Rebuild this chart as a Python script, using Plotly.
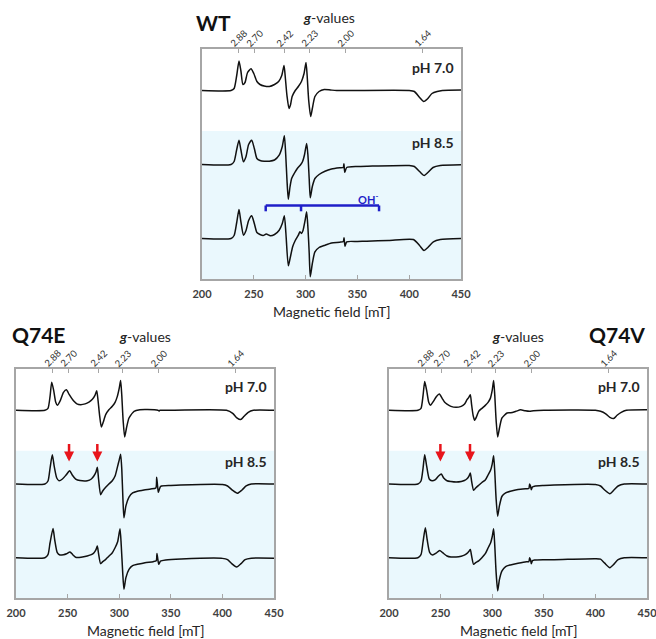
import plotly.graph_objects as go

# ---------------- data ----------------
field_ticks = [200, 250, 300, 350, 400, 450]
g_labels = ["2.88", "2.70", "2.42", "2.23", "2.00", "1.64"]
mw_freq_ghz = 9.47  # microwave frequency used for g -> field conversion

# WT
wt_ph70_field = [200, 228, 231, 233.5, 235.7, 237.5, 239.5, 241.5, 244, 247.3, 250, 253, 256, 260, 265, 270, 274, 277,
                 279.2, 280.5, 282, 284, 285.5, 287, 290, 293, 296, 298.5, 300.4, 301.5, 303, 304.9, 306.5, 309, 313,
                 318, 324, 330, 400, 405, 410, 414, 418, 422, 427, 432, 450]
wt_ph70_int = [0, 0, 2, 15, 29.5, 20, 6, 8, 18, 21.7, 17, 9, 6, 4.5, 4, 6, 9, 15,
               25, 12, -5, -18, -14, -6, 0, 4, 9, 17, 28, 15, -10, -26, -18, -6, -1,
               1, 0.5, 0, 0, -1, -7, -11, -8, -3, -1, 0, 0.5]

wt_ph85_field = [200, 228, 231, 233.5, 235.7, 237.5, 240, 242.5, 245, 248, 250.5, 253, 256, 260, 265, 270, 274.5, 277.5,
                 279.5, 280.8, 282, 283.3, 285, 286.5, 289, 292, 295, 297, 299, 301, 302.2, 303.5, 304.5, 306.5, 309,
                 313, 318.7, 325, 333, 336.3, 337, 337.8, 339.7, 350, 360, 400, 405, 410, 414.5, 418, 423, 430, 450]
wt_ph85_int = [0, 0, 3, 15, 24.3, 15, 2.7, 8, 20, 24.3, 16, 6, 4, 3.3, 3.3, 4.5, 9.3, 18,
               28.7, 10, -15, -34.7, -22, -14, -9, -4, -0.5, 2.7, 10, 21, 10, -15, -33.3, -22, -14,
               -10, -6.7, -4.5, -3.3, -3, 0.7, -7.7, -3, -2, -1.7, -1, -2, -7, -11, -8, -3, -1, -0.3]

wt_oh_field = [200, 228, 231, 233.5, 235.7, 237.5, 240, 242.5, 245, 248, 250.5, 253, 256, 259, 262, 266, 270, 274.5,
               277.5, 279.5, 281, 283.3, 285, 287.5, 290, 293, 294.5, 296, 297.5, 299.5, 301, 302.3, 303.5, 304.5,
               306.5, 309, 313, 318.7, 325, 333, 336.4, 337.1, 338, 339.7, 350, 359, 380, 404, 410, 414.3, 418,
               423.3, 430, 450]
wt_oh_int = [0, 0, 3, 16, 29, 17, 3.3, 8, 18, 22.7, 15, 6, 4, 3, 4.5, 2.7, 4, 8.3,
             15, 22.7, 5, -27.3, -20, -8.3, -2, 3.3, 6.7, 5, 8, 18, 26.7, 10, -15, -38.3,
             -25, -13.3, -9, -6.7, -4.5, -3.7, -3, 0.7, -7.7, -3.3, -3, -2.7, -2, -1, -7, -12, -9,
             -3.3, -1, 0]

# Q74E
q74e_ph70_field = [200, 228, 231, 233, 234.6, 236.5, 238.5, 240.1, 243, 246, 248.8, 251.5, 254, 256.2, 259, 262.7, 267,
                   270.7, 274, 276.5, 278.2, 279.5, 281, 282.7, 284.5, 286.9, 290, 293.3, 296, 298.2, 300, 301.4, 302.5,
                   303.8, 305.3, 307, 309.5, 314.4, 320, 327.3, 337.5, 338.6, 339.5, 345, 404, 410, 414, 417.7, 421,
                   425, 430, 450]
q74e_ph70_int = [0, 0, 2, 14, 28.3, 20, 8, 5, 10, 18, 20.7, 16, 12, 9, 6.5, 5.7, 6.5,
                 8.3, 11, 15, 19.7, 10, -5, -16.7, -12, -4.3, 0.5, 4, 8, 14, 22, 30, 15,
                 -10, -26.7, -18, -7.7, -1, 0.5, 0.7, 0, -0.7, 0, 0, 0, -3, -7.5, -9.3, -6,
                 -2, 0, 0]

q74e_ph85_field = [200, 228, 231, 233, 235.2, 237, 239.5, 241.7, 245, 248.5, 252, 254.5, 257.8, 262, 269.1, 273, 275.6,
                   277.5, 278.8, 280, 282, 284, 286.9, 290, 293.3, 296, 298.2, 300, 301.4, 302.5, 303.6, 304.6, 306.5,
                   309.5, 313, 317.6, 324, 330.5, 335.5, 336.3, 337.1, 337.9, 339, 340.2, 350, 359.6, 400, 405, 410,
                   414.5, 419, 423, 428, 450]
q74e_ph85_int = [0, 0, 3, 16, 29.3, 18, 6, 3.3, 5, 9, 13.3, 9, 5, 3.5, 3.3, 5, 8.3,
                 12, 16.7, 5, -10.7, -7, -3.3, 0, 3.3, 8, 16.7, 24, 30, 15, -15, -34, -22,
                 -13.3, -9, -7.3, -6, -5, -4, 6.7, -1, -8.3, -5, -2.3, -1.5, -1, -0.5, -2, -6.5,
                 -9.3, -6, -2, 0, 0]

q74e_oh_field = [200, 228, 231, 233, 235.9, 237.5, 240, 242.5, 246, 249, 252.3, 255, 257.8, 263, 269, 273, 275.6,
                 277.5, 278.8, 280, 282, 284, 287, 290, 293, 296, 298.5, 300.8, 302, 303.4, 304.6, 306.5, 309.5, 313,
                 317.6, 325, 333, 335.9, 336.6, 337.5, 338.3, 340, 345, 360, 400, 405, 409, 413.8, 418, 422, 428, 450]
q74e_oh_int = [0, 0, 3, 15, 29.3, 18, 5, 2.7, 3, 4, 5.7, 3, 0.5, 0.5, 1.7, 3, 5,
               8, 11.7, 4, -6, -4, -1.7, 1.5, 4.5, 10, 16, 29, 12, -15, -31.7, -20, -11.7, -8,
               -6.7, -5, -4, -3, 4.3, -2, -6.7, -3.5, -2.3, -1.3, -0.7, -2, -6, -9.3, -6, -2, -0.5, -0.5]

# Q74V
q74v_ph70_field = [200, 228, 231, 233, 234.6, 236.5, 238.5, 240.1, 243, 246, 248.8, 251.5, 254, 256.2, 260, 265, 270,
                   273, 275.6, 277.3, 278.8, 280, 281.5, 283, 285, 286.9, 290, 293.3, 296, 298.2, 300, 301.4, 302.5,
                   303.8, 305.3, 307, 309.5, 314.4, 318, 323, 327.5, 332, 336, 340, 350, 400, 405, 410, 414, 417.7,
                   421, 425, 430, 450]
q74v_ph70_int = [0, 0, 2, 15, 29, 20, 8, 5, 9, 14, 16.3, 12, 8, 6.3, 4, 3, 4,
                 6, 10.7, 13, 15.7, 6, -5, -10, -6, -1, 2, 5, 8, 12, 20, 30, 15,
                 -10, -26.7, -18, -7.7, -2.7, -2.5, -1, 0.5, -0.5, -1, -0.5, 0, 0, -1, -3.5, -7, -8.3,
                 -5, -2, 0, 0.5]

q74v_ph85_field = [200, 228, 231, 233, 234.6, 236.5, 239, 241.7, 245, 248, 250.7, 253, 256.2, 260, 265, 270, 273,
                   275.6, 277.5, 278.8, 280, 282, 284, 286.9, 290, 293.3, 296.1, 298.5, 300, 301.4, 302.5, 303.8,
                   305.3, 307, 309.5, 313, 317.6, 325, 333, 335.5, 336.3, 337.1, 337.9, 339, 341, 350, 360, 400, 405,
                   409, 414, 418, 422, 428, 450]
q74v_ph85_int = [0, 0, 3, 16, 29.3, 18, 5, 3.3, 4.5, 8, 10, 6, 3.3, 2.5, 2, 2.5, 3.5,
                 5.3, 8, 11, 3, -6.3, -4, -1.3, 1.5, 4, 9.3, 14, 20, 28.3, 12, -15,
                 -32.3, -22, -12.3, -9, -7.3, -5.5, -4.7, -4.5, 0, -2, -5.7, -3, -2.2, -1.5, -1, -0.5, -2,
                 -6, -9.7, -6, -2, 0, 0]

q74v_oh_field = [200, 228, 231, 233, 235.2, 237, 239.5, 242.3, 245.5, 249.1, 252, 256.2, 260, 265, 270, 273, 275.6,
                 277.5, 278.8, 280, 282, 284, 286.9, 290, 293.3, 296.1, 298.5, 300, 301.4, 302.5, 303.8, 305.3, 307,
                 309.5, 313, 317.6, 325, 333, 335.5, 336.3, 337.1, 337.9, 339, 341, 350, 360, 400, 405, 409, 414,
                 418, 422, 428, 450]
q74v_oh_int = [0, 0, 3, 16, 30, 18, 5, 2.7, 4.5, 7.3, 5, 1.7, 0.7, 0.7, 1.5, 2.5, 4.3,
               6.5, 8.3, 2, -6.7, -5, -3.3, 0, 4, 10, 15, 21, 29, 12, -15, -33.3, -22,
               -13.3, -9, -7.3, -5.5, -4, -4, 0, -2, -6, -3, -2.3, -2, -2, -1, -1.5, -5.5, -10,
               -6.5, -2, 0, 0]

# OH- bracket (mT) in WT and arrow positions (mT) in mutants
oh_bracket_fields = [261.5, 295.6, 370.9]
q74e_arrow_fields = [251.4, 278.8]
q74v_arrow_fields = [249.8, 278.5]

# ---------------- layout constants ----------------
W, H = 656, 639
trace_offsets = [-41.5, -115.5, -189.5]   # vertical stacking (axis units)
y_range = [-230, 0]
blue_top = -82
FRAME = "#A6A6A6"
BLUE_BG = "#EAF8FD"
TXT = "#262626"
FONT = "Lato"

panels = [
    dict(name="WT", x="x", y="y", dom_x=[202 / W, 461 / W], dom_y=[1 - 279 / H, 1 - 49 / H],
         traces=[(wt_ph70_field, wt_ph70_int), (wt_ph85_field, wt_ph85_int), (wt_oh_field, wt_oh_int)],
         title_xy=(213, 23), gtitle_xy=(329, 18)),
    dict(name="Q74E", x="x2", y="y2", dom_x=[16 / W, 274 / W], dom_y=[1 - 598 / H, 1 - 369 / H],
         traces=[(q74e_ph70_field, q74e_ph70_int), (q74e_ph85_field, q74e_ph85_int), (q74e_oh_field, q74e_oh_int)],
         title_xy=(38, 334), gtitle_xy=(145, 337), arrows=q74e_arrow_fields),
    dict(name="Q74V", x="x3", y="y3", dom_x=[389 / W, 647 / W], dom_y=[1 - 598 / H, 1 - 369 / H],
         traces=[(q74v_ph70_field, q74v_ph70_int), (q74v_ph85_field, q74v_ph85_int), (q74v_oh_field, q74v_oh_int)],
         title_xy=(617, 334), gtitle_xy=(518, 337), arrows=q74v_arrow_fields),
]

g_fields = [71.4477 * mw_freq_ghz / float(g) for g in g_labels]

fig = go.Figure()
shapes = []
annotations = []
layout_axes = {}

for i, p in enumerate(panels):
    n = "" if i == 0 else str(i + 1)
    xa, ya = p["x"], p["y"]
    for (fx, fy), off in zip(p["traces"], trace_offsets):
        fig.add_trace(go.Scatter(x=fx, y=[v + off for v in fy], mode="lines", xaxis=xa, yaxis=ya,
                                 line=dict(color="#111111", width=1.5, shape="spline", smoothing=0.6),
                                 showlegend=False, hoverinfo="skip"))
    # overlay axis carrying the g-value ticks
    top_id = str(i + 4)
    fig.add_trace(go.Scatter(x=[None], y=[None], xaxis="x" + top_id, yaxis=ya, showlegend=False,
                             hoverinfo="skip"))
    layout_axes["xaxis" + n] = dict(domain=p["dom_x"], anchor=ya, range=[200, 450], tickvals=field_ticks,
                                    showline=True, linecolor=FRAME, linewidth=1.5, mirror=True,
                                    ticks="inside", ticklen=4, tickcolor=FRAME, showgrid=False, zeroline=False,
                                    tickfont=dict(family=FONT, size=11, color="#404040", weight="bold"),
                                    ticklabelstandoff=4, ticklabeloverflow="allow", fixedrange=True,
                                    automargin=False)
    layout_axes["yaxis" + n] = dict(domain=p["dom_y"], anchor=xa, range=y_range, showline=True,
                                    linecolor=FRAME, linewidth=1.5, mirror=True, showticklabels=False,
                                    ticks="", showgrid=False, zeroline=False, fixedrange=True, automargin=False)
    layout_axes["xaxis" + top_id] = dict(overlaying=xa, side="top", anchor=ya, domain=p["dom_x"],
                                         range=[200, 450], tickvals=g_fields, ticks="inside", ticklen=4,
                                         tickcolor=FRAME, showticklabels=False, showline=False,
                                         showgrid=False, zeroline=False, fixedrange=True, automargin=False)
    # light blue band behind the high-pH spectra
    shapes.append(dict(type="rect", xref=xa, yref=ya, x0=200, x1=450, y0=y_range[0], y1=blue_top,
                       fillcolor=BLUE_BG, line=dict(width=0), layer="below"))
    # g-value labels
    for g, fx in zip(g_labels, g_fields):
        annotations.append(dict(text=g, x=fx, xref=xa, y=1, yref=ya + " domain", yshift=11,
                                xanchor="center", yanchor="middle", textangle=-45, showarrow=False,
                                font=dict(family=FONT, size=9.5, color="#333333")))
    # titles
    tx, ty = p["title_xy"]
    annotations.append(dict(text="<b>%s</b>" % p["name"], x=tx / W, y=1 - ty / H, xref="paper", yref="paper",
                            xanchor="center", yanchor="middle", showarrow=False,
                            font=dict(family=FONT, size=21, color="#111111")))
    gx, gy = p["gtitle_xy"]
    annotations.append(dict(text="<b><i>g</i></b>-values", x=gx / W, y=1 - gy / H, xref="paper", yref="paper",
                            xanchor="center", yanchor="middle", showarrow=False,
                            font=dict(family=FONT, size=14, color=TXT)))
    annotations.append(dict(text="Magnetic field [mT]", x=0.5, xref=xa + " domain", y=0, yref=ya + " domain",
                            yshift=-32, xanchor="center", yanchor="middle", showarrow=False,
                            font=dict(family=FONT, size=14, color=TXT)))
    # pH labels
    for lab, yy in (("pH 7.0", -18), ("pH 8.5", -93)):
        annotations.append(dict(text="<b>%s</b>" % lab, x=1, xref=xa + " domain", xshift=-5, y=yy, yref=ya,
                                xanchor="right", yanchor="middle", showarrow=False,
                                font=dict(family=FONT, size=14, color=TXT)))
    # red arrows
    for af in p.get("arrows", []):
        annotations.append(dict(text="", x=af, y=-93, xref=xa, yref=ya, showarrow=True, ax=0, ay=-19,
                                arrowhead=2, arrowsize=0.8, arrowwidth=2.5, arrowcolor="#E8141B"))

# OH- bracket in the WT panel
br_y, br_tick = -156.5, -162.3
shapes.append(dict(type="line", xref="x", yref="y", x0=oh_bracket_fields[0], x1=oh_bracket_fields[-1],
                   y0=br_y, y1=br_y, line=dict(color="#1F1FC8", width=2.5)))
for bf in oh_bracket_fields:
    shapes.append(dict(type="line", xref="x", yref="y", x0=bf, x1=bf, y0=br_y, y1=br_tick,
                       line=dict(color="#1F1FC8", width=2.5)))
annotations.append(dict(text="<b>OH<sup>-</sup></b>", x=360, y=-149, xref="x", yref="y", showarrow=False,
                        xanchor="center", yanchor="middle", font=dict(family=FONT, size=11, color="#1F1FC8")))

fig.update_layout(width=W, height=H, margin=dict(l=0, r=0, t=0, b=0, autoexpand=False), paper_bgcolor="white",
                  plot_bgcolor="white", showlegend=False, shapes=shapes, annotations=annotations,
                  **layout_axes)

fig.write_html("out.html", config={"displayModeBar": False},
               post_script="document.body.style.margin='0px';document.body.style.overflow='hidden';")
